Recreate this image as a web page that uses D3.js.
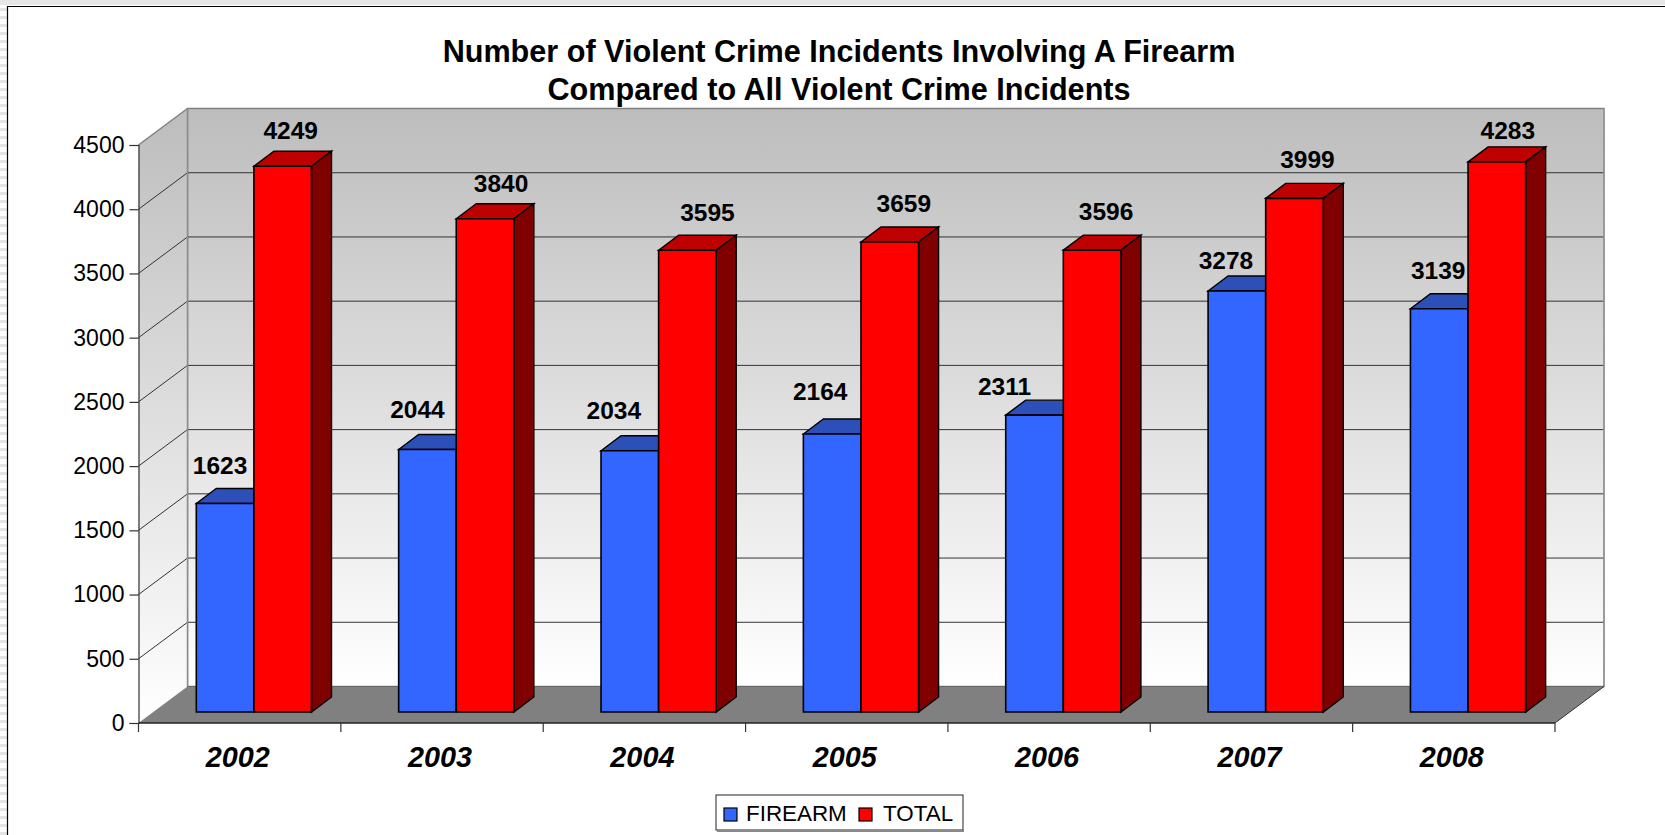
<!DOCTYPE html>
<html><head><meta charset="utf-8">
<script src="https://cdn.jsdelivr.net/npm/d3@7"></script>
<style>html,body{margin:0;padding:0;background:#fff;overflow:hidden}svg{display:block}text{font-family:"Liberation Sans",Arial,sans-serif}</style>
</head><body><svg id="c" width="1665" height="835"></svg>
<script>
const years=["2002","2003","2004","2005","2006","2007","2008"];
const firearm=[1623,2044,2034,2164,2311,3278,3139];
const total=[4249,3840,3595,3659,3596,3999,4283];
const yTicks=[0,500,1000,1500,2000,2500,3000,3500,4000,4500];
const titleLines=["Number of Violent Crime Incidents Involving A Firearm","Compared to All Violent Crime Incidents"];
const seriesNames=["FIREARM","TOTAL"];

const svg=d3.select("#c");
const x0=138.5,x1=1555,yB=723,yT=145,dX=49,dY=36.5;
const barDY=-11,sideDX=20,sideDY=15,gap=57.8,barW=57.6;
const x=d3.scaleBand().domain(years).range([x0,x1]);
const y=d3.scaleLinear().domain([0,4500]).range([yB,yT]);
const cols=[{f:"#3366ff",t:"#2c4fb8",s:"#1b2f80"},{f:"#ff0000",t:"#bf0000",s:"#800000"}];

const defs=svg.append("defs");
const g=defs.append("linearGradient").attr("id","wall").attr("x1",0).attr("x2",0).attr("y1",0).attr("y2",1);
g.append("stop").attr("offset",0).attr("stop-color","#bdbdbd");
g.append("stop").attr("offset",1).attr("stop-color","#ffffff");
const pat=defs.append("pattern").attr("id","hatch").attr("width",6).attr("height",8).attr("patternUnits","userSpaceOnUse");
pat.append("rect").attr("width",6).attr("height",8).attr("fill","#fff");
pat.append("rect").attr("width",6).attr("height",3).attr("fill","#e4e4e4");

// page frame
svg.append("rect").attr("x",0).attr("y",0).attr("width",7).attr("height",835).attr("fill","url(#hatch)");
svg.append("rect").attr("x",0).attr("y",0).attr("width",1665).attr("height",5).attr("fill","#e6e6e6");
svg.append("path").attr("d","M7.5,835V6.5H1665").attr("fill","none").attr("stroke","#000").attr("stroke-width",1.2);

const line=(a,b,c,d,col,w)=>svg.append("line").attr("x1",a).attr("y1",b).attr("x2",c).attr("y2",d).attr("stroke",col).attr("stroke-width",w);
const poly=(pts,fill,stroke,w)=>svg.append("polygon").attr("points",pts.map(p=>p.join(",")).join(" ")).attr("fill",fill).attr("stroke",stroke||"none").attr("stroke-width",w||0).attr("stroke-linejoin","miter");

// walls
svg.append("rect").attr("x",x0+dX).attr("y",yT-dY).attr("width",x1-x0).attr("height",yB-yT).attr("fill","url(#wall)").attr("stroke","#808080").attr("stroke-width",1.5);
poly([[x0,yT],[x0+dX,yT-dY],[x0+dX,yB-dY],[x0,yB]],"url(#wall)");
line(x0+dX,yT-dY,x0,yT,"#808080",1.5);
// floor
poly([[x0,yB],[x0+dX,yB-dY],[x1+dX,yB-dY],[x1,yB]],"#808080");
// gridlines
yTicks.forEach(v=>{
  const p=y(v);
  if(v>0&&v<4500){
    svg.append("path").attr("d",`M${x0},${p}L${x0+dX},${p-dY}H${x1+dX}`).attr("fill","none").attr("stroke","#333").attr("stroke-width",1);
  }
});
line(x0+dX,yT-dY,x0+dX,yB-dY,"#8c8c8c",1.5);
line(x1+dX,yT-dY,x1+dX,yB-dY,"#9a9a9a",1.5);
line(x0+dX,yB-dY,x1+dX,yB-dY,"#666",1);
line(x1,yB,x1+dX,yB-dY,"#333",1);
// axes via d3
const yAxis=d3.axisLeft(y).tickValues(yTicks).tickSize(9).tickPadding(5).tickFormat(d3.format("d"));
const ya=svg.append("g").attr("transform",`translate(${x0},0)`).call(yAxis);
ya.selectAll("text").attr("font-size",23).attr("fill","#000").style("font-family",'"Liberation Sans",Arial,sans-serif');
ya.selectAll("line,path").attr("stroke","#333").attr("stroke-width",1.2);
line(x0,yB,x1,yB,"#222",1.5);
const xTickPos=d3.range(years.length+1).map(i=>x0+i*x.step());
xTickPos.forEach(p=>line(p,yB,p,yB+9,"#333",1.2));
years.forEach(d=>{
  svg.append("text").attr("x",x(d)+x.step()/2-2).attr("y",yB+43.5).attr("text-anchor","middle")
    .attr("font-size",28.8).attr("font-weight","bold").attr("font-style","italic").attr("fill","#000").text(d);
});

// bars
function drawBar(xl,v,c,drawSide){
  const b=yB+barDY,t=y(v)+barDY,xr=xl+barW;
  poly([[xl,t],[xl+sideDX,t-sideDY],[xr+sideDX,t-sideDY],[xr,t]],c.t,"#000",1.4);
  if(drawSide) poly([[xr,t],[xr+sideDX,t-sideDY],[xr+sideDX,b-sideDY],[xr,b]],c.s,"#000",1.4);
  poly([[xl,t],[xr,t],[xr,b],[xl,b]],c.f,"#000",1.6);
}
years.forEach((d,i)=>{
  const xl=x(d)+gap;
  drawBar(xl,firearm[i],cols[0],false);
  drawBar(xl+barW,total[i],cols[1],true);
});

// data labels, shifted as placed in the reference
const labelF=[[-5,-38],[-10,-40],[-16,-41],[-12,-43],[-30,-29],[-11,-31],[-1,-39]];
const labelT=[[8,-36],[16,-36],[20,-38],[14,-39],[14,-39],[13,-39],[11,-32]];
const lbl=(px,py,t)=>svg.append("text").attr("x",px).attr("y",py).attr("dy","0.36em").attr("text-anchor","middle").attr("font-size",24.5).attr("font-weight","bold").attr("fill","#000").text(t);
years.forEach((d,i)=>{
  const xl=x(d)+gap;
  lbl(xl+barW/2+labelF[i][0],y(firearm[i])+barDY+labelF[i][1],firearm[i]);
  lbl(xl+barW*1.5+labelT[i][0],y(total[i])+barDY+labelT[i][1],total[i]);
});

// title
titleLines.forEach((t,i)=>svg.append("text").attr("x",839).attr("y",51+i*38).attr("dy","0.36em").attr("text-anchor","middle")
  .attr("font-size",30.6).attr("font-weight","bold").attr("fill","#000").text(t));

// legend
svg.append("rect").attr("x",716).attr("y",795).attr("width",247).attr("height",35).attr("fill","#fff").attr("stroke","#222").attr("stroke-width",1);
line(717,831,964,831,"#888",2);
const lx=[724,859],tx=[746,883];
seriesNames.forEach((n,i)=>{
  svg.append("rect").attr("x",lx[i]).attr("y",808).attr("width",13).attr("height",13).attr("fill",cols[i].f).attr("stroke","#000").attr("stroke-width",1.2);
  svg.append("text").attr("x",tx[i]).attr("y",813).attr("dy","0.36em").attr("font-size",22.4).attr("fill","#000").text(n);
});
</script></body></html>
